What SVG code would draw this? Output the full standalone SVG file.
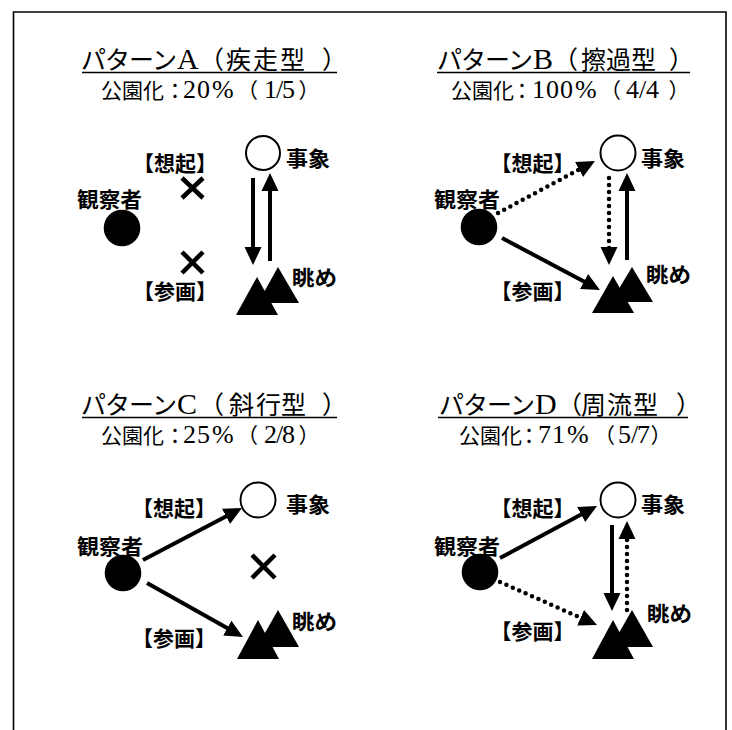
<svg xmlns="http://www.w3.org/2000/svg" width="732" height="730" viewBox="0 0 732 730">
<style>
.title{font-family:"Liberation Serif","Noto Sans CJK JP",serif;font-size:25px;fill:#000}
.sub{font-family:"Liberation Serif","Noto Sans CJK JP",serif;font-size:21px;fill:#000}
.cap{font-size:30px}
.num{font-size:26px}
.lbl{font-family:"Noto Sans CJK JP",sans-serif;font-weight:700;font-size:21px;fill:#000}
.br{text-anchor:middle}
.ul{stroke:#000;stroke-width:1.3}
.obs{fill:#000}
.evt{fill:#fff;stroke:#000;stroke-width:2}
.mt{fill:#000}
.x{stroke:#000;stroke-width:4.5;stroke-linecap:butt}
.solid{fill:none;stroke:#000;stroke-width:4;marker-end:url(#ah)}
.dot{fill:none;stroke:#000;stroke-width:4.5;stroke-linecap:round;stroke-dasharray:0 7;marker-end:url(#ah)}
</style>
<defs>
<marker id="ah" markerUnits="userSpaceOnUse" markerWidth="18" markerHeight="18" viewBox="0 -9 18 18" refX="10" refY="0" orient="auto"><path d="M0,-8.5 L18,0 L0,8.5 z" fill="#000"/></marker>
</defs>
<rect width="732" height="730" fill="#fff"/>
<path d="M13.5,730 V12 H726 V730" fill="none" stroke="#000" stroke-width="1.6"/>

<!-- Panel A -->
<g id="panel-a">
<g id="title-a"><text class="title" y="69"><tspan x="81 105 129 152">パターン</tspan><tspan class="cap" x="177">A</tspan><tspan x="199 226 253 280 322">（疾走型）</tspan></text><line class="ul" x1="82" y1="72.5" x2="337" y2="72.5"/></g>
<g id="rate-a"><text class="sub" y="98"><tspan x="101 122 143 164.5">公園化：</tspan><tspan class="num" x="183 197 212">20%</tspan><tspan x="237">（</tspan><tspan class="num" x="264 276 282">1/5</tspan><tspan x="298.5">）</tspan></text></g>
<g id="observer-a"><circle class="obs" cx="122" cy="228" r="18.3"/><text class="lbl" x="77" y="206.5" textLength="65" lengthAdjust="spacingAndGlyphs">観察者</text></g>
<g id="event-a"><circle class="evt" cx="263" cy="153" r="17"/><text class="lbl" x="286" y="165.5" textLength="44" lengthAdjust="spacingAndGlyphs">事象</text></g>
<g id="view-a"><path class="mt" d="M278,267 L299,303 L258,303 z"/><path class="mt" d="M257,277 L278,315 L236,315 z"/><text class="lbl" x="292" y="285" textLength="45" lengthAdjust="spacingAndGlyphs">眺め</text></g>
<g id="souki-a"><text class="lbl br" x="175" y="170.5">【想起】</text><path class="x" d="M182,178 L203,198 M203,178 L182,198"/></g>
<g id="sankaku-a"><text class="lbl br" x="175" y="298.5">【参画】</text><path class="x" d="M182,252 L203,273 M203,252 L182,273"/></g>
</g>

<!-- Panel B -->
<g id="panel-b">
<g id="title-b"><text class="title" y="69"><tspan x="437 461 485 508">パターン</tspan><tspan class="cap" x="533">B</tspan><tspan x="553 581 606 631 669">（擦過型）</tspan></text><line class="ul" x1="437" y1="72.5" x2="690" y2="72.5"/></g>
<g id="rate-b"><text class="sub" y="98"><tspan x="451 472 493 511.5">公園化：</tspan><tspan class="num" x="532 546 560 575">100%</tspan><tspan x="600">（</tspan><tspan class="num" x="626 639 646">4/4</tspan><tspan x="668.5">）</tspan></text></g>
<g id="observer-b"><circle class="obs" cx="479" cy="227" r="18.3"/><text class="lbl" x="434" y="206.5" textLength="66" lengthAdjust="spacingAndGlyphs">観察者</text></g>
<g id="event-b"><circle class="evt" cx="618" cy="153" r="17.5"/><text class="lbl" x="641" y="165.5" textLength="44" lengthAdjust="spacingAndGlyphs">事象</text></g>
<g id="view-b"><path class="mt" d="M632,267 L653,302 L611,302 z"/><path class="mt" d="M613,276 L634,313 L592,313 z"/><text class="lbl" x="646" y="281.5" textLength="45" lengthAdjust="spacingAndGlyphs">眺め</text></g>
<g id="souki-b"><text class="lbl br" x="532.5" y="170.5">【想起】</text></g>
<g id="sankaku-b"><text class="lbl br" x="532.5" y="298.5">【参画】</text></g>
</g>

<!-- Panel C -->
<g id="panel-c">
<g id="title-c"><text class="title" y="414"><tspan x="81 105 129 152">パターン</tspan><tspan class="cap" x="177">C</tspan><tspan x="199 229 256 281 322">（斜行型）</tspan></text><line class="ul" x1="82" y1="417.5" x2="337" y2="417.5"/></g>
<g id="rate-c"><text class="sub" y="443"><tspan x="101 122 143 164.5">公園化：</tspan><tspan class="num" x="183 197 212">25%</tspan><tspan x="237">（</tspan><tspan class="num" x="264 276 282">2/8</tspan><tspan x="298.5">）</tspan></text></g>
<g id="observer-c"><circle class="obs" cx="123" cy="573" r="18.3"/><text class="lbl" x="77" y="553.5" textLength="66" lengthAdjust="spacingAndGlyphs">観察者</text></g>
<g id="event-c"><circle class="evt" cx="258" cy="500" r="17.5"/><text class="lbl" x="286" y="511.5" textLength="44" lengthAdjust="spacingAndGlyphs">事象</text></g>
<g id="view-c"><path class="mt" d="M278,610 L299,647 L257,647 z"/><path class="mt" d="M258,620 L279,659 L237,659 z"/><text class="lbl" x="292" y="628.5" textLength="45" lengthAdjust="spacingAndGlyphs">眺め</text></g>
<g id="souki-c"><text class="lbl br" x="174" y="515.5">【想起】</text></g>
<g id="sankaku-c"><text class="lbl br" x="174" y="645.5">【参画】</text></g>
<g id="cross-c"><path class="x" d="M252,555 L275,578 M275,555 L252,578"/></g>
</g>

<!-- Panel D -->
<g id="panel-d">
<g id="title-d"><text class="title" y="414"><tspan x="439 463 487 510">パターン</tspan><tspan class="cap" x="535">D</tspan><tspan x="557 581 607 633 676">（周流型）</tspan></text><line class="ul" x1="438" y1="417.5" x2="688" y2="417.5"/></g>
<g id="rate-d"><text class="sub" y="443"><tspan x="459 480 501 518.5">公園化：</tspan><tspan class="num" x="538 552 567">71%</tspan><tspan x="594">（</tspan><tspan class="num" x="618 631 637">5/7</tspan><tspan x="650.5">）</tspan></text></g>
<g id="observer-d"><circle class="obs" cx="480" cy="572" r="18.3"/><text class="lbl" x="434" y="553.5" textLength="66" lengthAdjust="spacingAndGlyphs">観察者</text></g>
<g id="event-d"><circle class="evt" cx="618" cy="500" r="17.5"/><text class="lbl" x="641" y="511.5" textLength="44" lengthAdjust="spacingAndGlyphs">事象</text></g>
<g id="view-d"><path class="mt" d="M632,610 L653,647 L611,647 z"/><path class="mt" d="M613,620 L634,659 L592,659 z"/><text class="lbl" x="647" y="620.5" textLength="45" lengthAdjust="spacingAndGlyphs">眺め</text></g>
<g id="souki-d"><text class="lbl br" x="532.5" y="515.5">【想起】</text></g>
<g id="sankaku-d"><text class="lbl br" x="532.5" y="638.5">【参画】</text></g>
</g>

<g id="connectors">
<line class="solid" x1="253" y1="178" x2="253" y2="257"/>
<line class="solid" x1="270" y1="261" x2="270" y2="181"/>
<line class="dot" x1="498" y1="213" x2="587.9" y2="164.8"/>
<line class="dot" x1="609" y1="178" x2="609" y2="257"/>
<line class="solid" x1="627" y1="260" x2="627" y2="181"/>
<line class="solid" x1="502" y1="238" x2="592.9" y2="286.2"/>
<line class="solid" x1="143" y1="560" x2="234.9" y2="511.7"/>
<line class="solid" x1="147" y1="583" x2="236" y2="633.1"/>
<line class="solid" x1="500" y1="558" x2="590" y2="509.8"/>
<line class="dot" x1="500" y1="582" x2="589.7" y2="621.8"/>
<line class="solid" x1="612" y1="525" x2="612" y2="603"/>
<line class="dot" x1="627" y1="610" x2="627" y2="529"/>
</g>
</svg>
